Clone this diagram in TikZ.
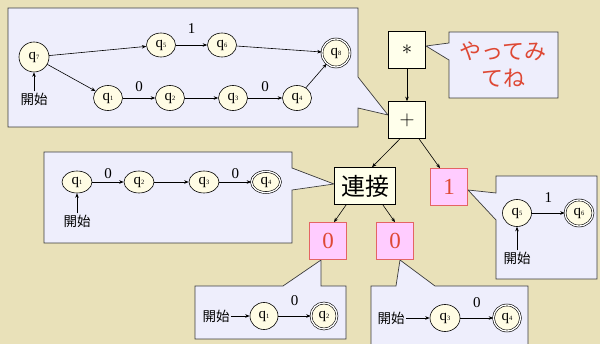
\documentclass[tikz,border=0pt]{standalone}
\usepackage{fontspec}
\setmainfont{Liberation Serif}
\newfontfamily\jp{Noto Sans CJK JP}
\usetikzlibrary{shapes.geometric,arrows.meta,positioning}
\definecolor{bgcol}{RGB}{233,225,185}
\definecolor{callfill}{RGB}{238,238,252}
\definecolor{calline}{RGB}{60,60,60}
\definecolor{stfill}{RGB}{255,252,228}
\definecolor{boxfill}{RGB}{255,255,235}
\definecolor{leaffill}{RGB}{255,204,255}
\definecolor{leafline}{RGB}{228,100,100}
\definecolor{redtext}{RGB}{222,72,52}
\newcommand{\qq}[1]{q\raisebox{-.1ex}{\fontsize{6.5}{6.5}\selectfont #1}}

\begin{document}
\begin{tikzpicture}[x=1pt,y=-1pt,>={Stealth[length=4.5pt,width=3.5pt]},line width=0.6pt,
	st/.style={ellipse,draw,fill=stfill,inner sep=0pt,minimum width=29pt,minimum height=25pt,font=\fontsize{15}{15}\selectfont},
	acc/.style={st,double,double distance=1.3pt},
	start/.style={font=\jp\fontsize{13.5}{13.5}\selectfont,inner sep=1pt},
	lab/.style={font=\fontsize{15}{15}\selectfont,inner sep=1pt},
	callout/.style={draw=calline,fill=callfill,line width=0.7pt},
	opbox/.style={draw,fill=boxfill,minimum width=37pt,minimum height=37pt,inner sep=0pt},
	leaf/.style={draw=leafline,fill=leaffill,text=redtext,minimum width=37pt,minimum height=37pt,inner sep=0pt,font=\fontsize{23}{23}\selectfont}]
	\useasboundingbox (0,0) rectangle (600,344);
	\fill[bgcol] (0,0) rectangle (600,344);
	\draw[callout] (8,8) -- (358,8) -- (358,77) -- (388,115) -- (358,108) -- (358,127) -- (8,127) -- cycle;
	\draw[callout] (449,32) -- (558,32) -- (558,98) -- (449,98) -- (449,60) -- (426,46) -- (449,43) -- cycle;
	\draw[callout] (44,152) -- (292,152) -- (292,168) -- (334,184) -- (292,190) -- (292,243) -- (44,243) -- cycle;
	\draw[callout] (496,176) -- (597,176) -- (597,279) -- (496,279) -- (496,220) -- (468,190) -- (496,193) -- cycle;
	\draw[callout] (195,286) -- (283,286) -- (321,260) -- (321,286) -- (346,286) -- (346,339) -- (195,339) -- cycle;
	\draw[callout] (371,286) -- (396,286) -- (400,260) -- (435,286) -- (528,286) -- (528,350) -- (371,350) -- cycle;

	\node[opbox,font=\fontsize{22}{22}\selectfont] (star) at (407,50) {$\ast$};
	\node[opbox,font=\fontsize{20}{20}\selectfont] (plus) at (407,120) {$+$};
	\node[draw,fill=boxfill,inner sep=2pt,minimum width=61pt,minimum height=37pt,font=\jp\fontsize{24}{24}\selectfont] (concat) at (365,186) {連接};
	\node[leaf] (one) at (449,187) {1};
	\node[leaf] (zeroa) at (328,241) {0};
	\node[leaf] (zerob) at (395,241) {0};
	\node[text=redtext,align=center,font=\jp\fontsize{22}{27}\selectfont] (hint) at (503,65) {やってみ\\てね};
	\draw[->] (star) -- (plus);
	\draw[->] ([xshift=-7pt]plus.south) -- ([xshift=7pt]concat.north);
	\draw[->] ([xshift=12pt]plus.south) -- ([xshift=-9pt]one.north);
	\draw[->] ([xshift=12pt]concat.south west) -- ([xshift=6pt]zeroa.north);
	\draw[->] ([xshift=-13pt]concat.south east) -- (zerob.north);

	\node[st,minimum width=30pt,minimum height=30pt] (u7) at (34,57) {\qq{7}};
	\node[st,minimum height=24pt] (u5) at (161,45) {\qq{5}};
	\node[st,minimum height=24pt] (u6) at (222,45) {\qq{6}};
	\node[acc,minimum width=28pt,minimum height=28pt] (u8) at (336,53) {\qq{8}};
	\node[st,minimum height=25pt] (u1) at (108,98) {\qq{1}};
	\node[st,minimum height=25pt] (u2) at (170,98) {\qq{2}};
	\node[st,minimum height=25pt] (u3) at (233,98) {\qq{3}};
	\node[st,minimum height=25pt] (u4) at (297,98) {\qq{4}};
	\node[start] (us) at (34,99) {開始};
	\draw[->] (us) -- (u7);
	\draw[->] (u7) -- (u5);
	\draw[->] (u5) -- node[lab,above=10pt] {1} (u6);
	\draw[->] (u6) -- (u8);
	\draw[->] (u7) -- (u1);
	\draw[->] (u1) -- node[lab,above=5pt] {0} (u2);
	\draw[->] (u2) -- (u3);
	\draw[->] (u3) -- node[lab,above=5pt] {0} (u4);
	\draw[->] (u4) -- (u8);

	\node[st,minimum width=30pt,minimum height=22pt] (m1) at (77,182) {\qq{1}};
	\node[st,minimum width=30pt,minimum height=22pt] (m2) at (139,182) {\qq{2}};
	\node[st,minimum width=30pt,minimum height=22pt] (m3) at (204,182) {\qq{3}};
	\node[acc,minimum width=29pt,minimum height=21pt] (m4) at (266,182) {\qq{4}};
	\node[start] (ms) at (77,221) {開始};
	\draw[->] (ms) -- (m1);
	\draw[->] (m1) -- node[lab,above=2pt] {0} (m2);
	\draw[->] (m2) -- (m3);
	\draw[->] (m3) -- node[lab,above=2pt] {0} (m4);

	\node[st,minimum width=29pt,minimum height=27pt] (r5) at (517,213) {\qq{5}};
	\node[acc,minimum width=28pt,minimum height=26pt] (r6) at (579,213) {\qq{6}};
	\node[start] (rs) at (517,258) {開始};
	\draw[->] (rs) -- (r5);
	\draw[->] (r5) -- node[lab,above=9pt] {1} (r6);

	\node[st,minimum width=28pt,minimum height=27pt] (a1) at (264,316) {\qq{1}};
	\node[acc,minimum width=26pt,minimum height=26pt] (a2) at (324,316) {\qq{2}};
	\node[start] (as) at (216,316) {開始};
	\draw[->] (as) -- (a1);
	\draw[->] (a1) -- node[lab,above=9pt] {0} (a2);

	\node[st,minimum width=30pt,minimum height=27pt] (b3) at (445,318) {\qq{3}};
	\node[acc,minimum width=27pt,minimum height=26pt] (b4) at (507,318) {\qq{4}};
	\node[start] (bs) at (391,318) {開始};
	\draw[->] (bs) -- (b3);
	\draw[->] (b3) -- node[lab,above=9pt] {0} (b4);
\end{tikzpicture}
\end{document}
